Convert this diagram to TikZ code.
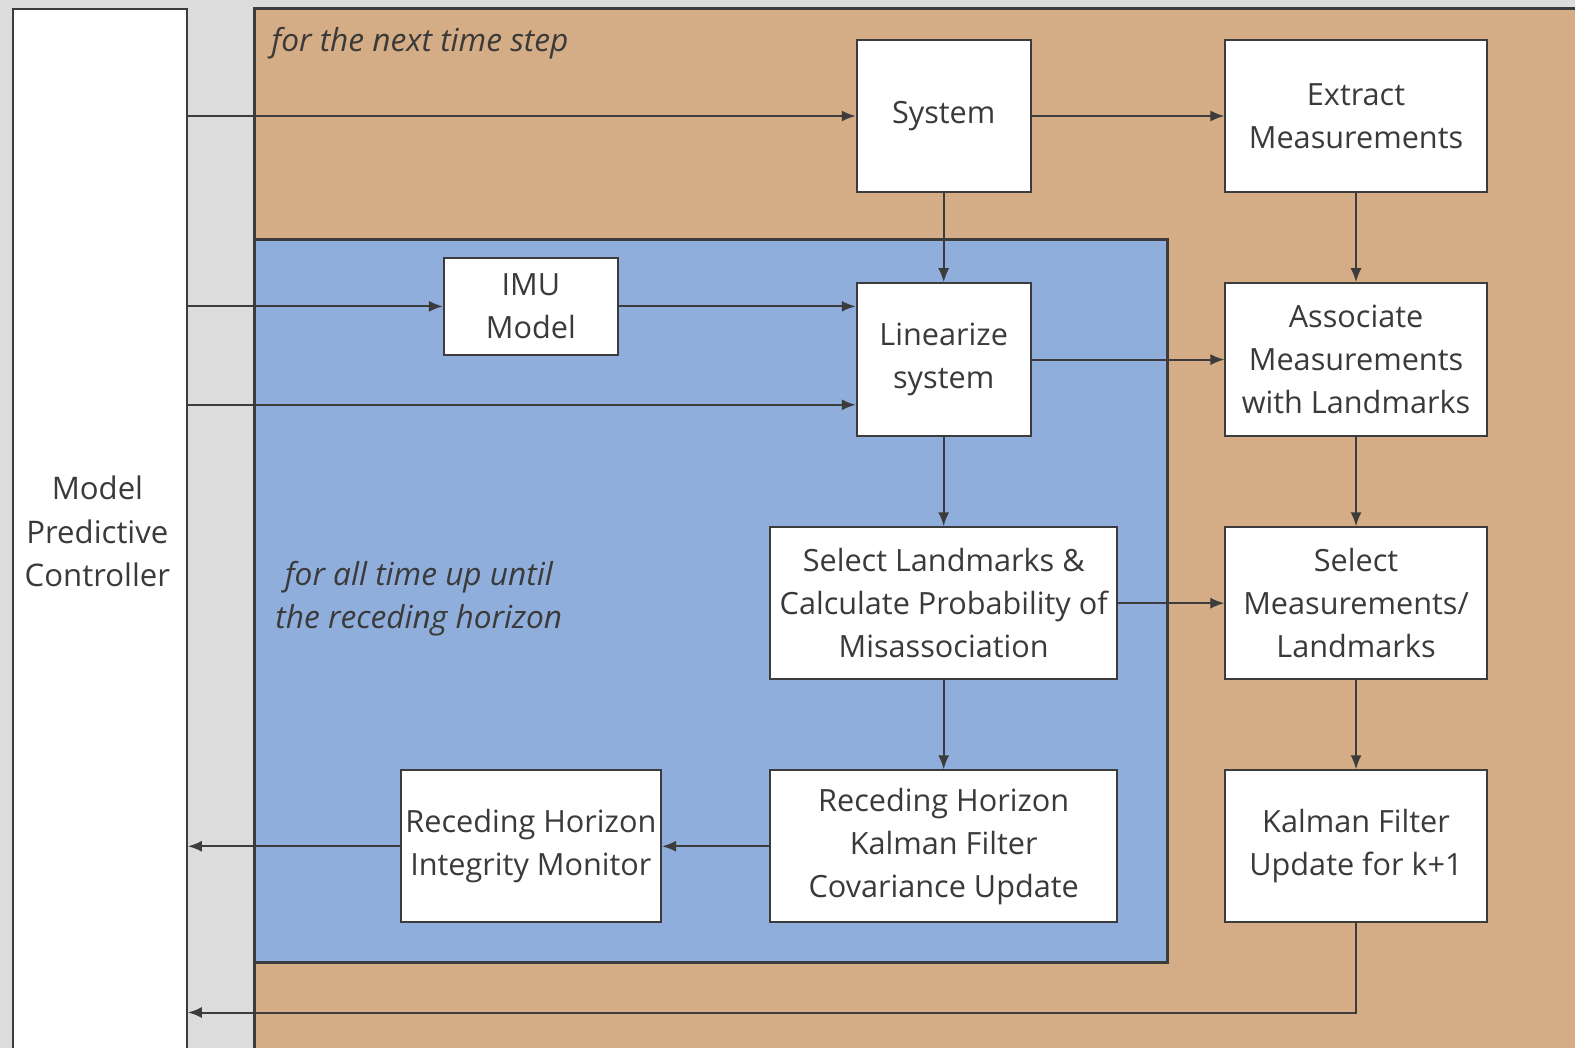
\documentclass[tikz,border=0pt]{standalone}
\usepackage{fontspec}
\setmainfont{Open Sans}
\usetikzlibrary{arrows.meta}
\definecolor{bggray}{HTML}{DCDCDC}
\definecolor{outerc}{HTML}{D4AC85}
\definecolor{innerc}{HTML}{8FAEDB}
\definecolor{linec}{HTML}{3C3C3C}
\definecolor{textc}{HTML}{3A3A3A}
\tikzset{
  box/.style={draw=linec, line width=2pt, fill=white, align=center, text=textc,
    inner sep=0pt, font=\fontsize{30.5}{43}\selectfont},
  arr/.style={draw=linec, line width=2pt, -{Latex[length=14pt,width=11pt]}},
  region/.style={draw=linec, line width=3pt},
  lbl/.style={text=textc, font=\fontsize{31.5}{43}\selectfont\itshape, align=center, inner sep=0pt}
}
\begin{document}
\begin{tikzpicture}[x=1pt,y=-1pt]
\useasboundingbox (0,0) rectangle (1568,1043);
\clip (0,0) rectangle (1568,1043);
\fill[bggray] (0,0) rectangle (1568,1043);
% regions
\filldraw[region, fill=outerc] (253,8) rectangle (1620,1090);
\filldraw[region, fill=innerc] (253,238) rectangle (1162,958);
% MPC
\node[box, minimum width=173pt, minimum height=1052pt, anchor=north west] (mpc) at (12,8) {};
\node[lbl, font=\fontsize{31}{43}\selectfont] (mpctext) at (97,529) {Model\\Predictive\\Controller};
% labels
\node[lbl, anchor=west] (nextstep) at (270,43) {for the next time step};
\node[lbl] (allt) at (417,596) {for all time up until\\the receding horizon};
% boxes
\node[box, minimum width=173pt, minimum height=151pt] (sys) at (939.5,115.5) {System};
\node[box, minimum width=260pt, minimum height=151pt] (ext) at (1350,115.5) {Extract\\Measurements};
\node[box, minimum width=173pt, minimum height=96pt] (imu) at (528.5,305) {IMU\\Model};
\node[box, minimum width=173pt, minimum height=152pt] (lin) at (939.5,358) {Linearize\\system};
\node[box, minimum width=260pt, minimum height=152pt] (asc) at (1350,358) {Associate\\Measurements\\with Landmarks};
\node[box, minimum width=345pt, minimum height=151pt] (sel) at (939.5,600.5) {Select Landmarks \&\\Calculate Probability of\\Misassociation};
\node[box, minimum width=260pt, minimum height=151pt] (selm) at (1350,600.5) {Select\\Measurements/\\Landmarks};
\node[box, minimum width=259pt, minimum height=151pt] (rhim) at (528.5,842.5) {Receding Horizon\\Integrity Monitor};
\node[box, minimum width=345pt, minimum height=151pt] (rhkf) at (939.5,842.5) {Receding Horizon\\Kalman Filter\\Covariance Update};
\node[box, minimum width=260pt, minimum height=151pt] (kfu) at (1350,842.5) {Kalman Filter\\Update for k+1};
\coordinate (corner) at (1350,1008);
% connectors
\draw[arr] (sys.west -| mpc.east) -- (sys.west);
\draw[arr] (sys.east) -- (ext.west);
\draw[arr] (sys.south) -- (lin.north);
\draw[arr] (imu.west -| mpc.east) -- (imu.west);
\draw[arr] (imu.east) -- (imu.east -| lin.west);
\draw[arr] (mpc.east |- 0,403) -- (lin.west |- 0,403);
\draw[arr] (lin.east) -- (asc.west);
\draw[arr] (ext.south) -- (asc.north);
\draw[arr] (lin.south) -- (sel.north);
\draw[arr] (sel.east) -- (selm.west);
\draw[arr] (asc.south) -- (selm.north);
\draw[arr] (selm.south) -- (kfu.north);
\draw[arr] (sel.south) -- (rhkf.north);
\draw[arr] (rhkf.west) -- (rhim.east);
\draw[arr] (rhim.west) -- (rhim.west -| mpc.east);
\draw[arr] (kfu.south) -- (corner) -- (corner -| mpc.east);
\end{tikzpicture}
\end{document}
